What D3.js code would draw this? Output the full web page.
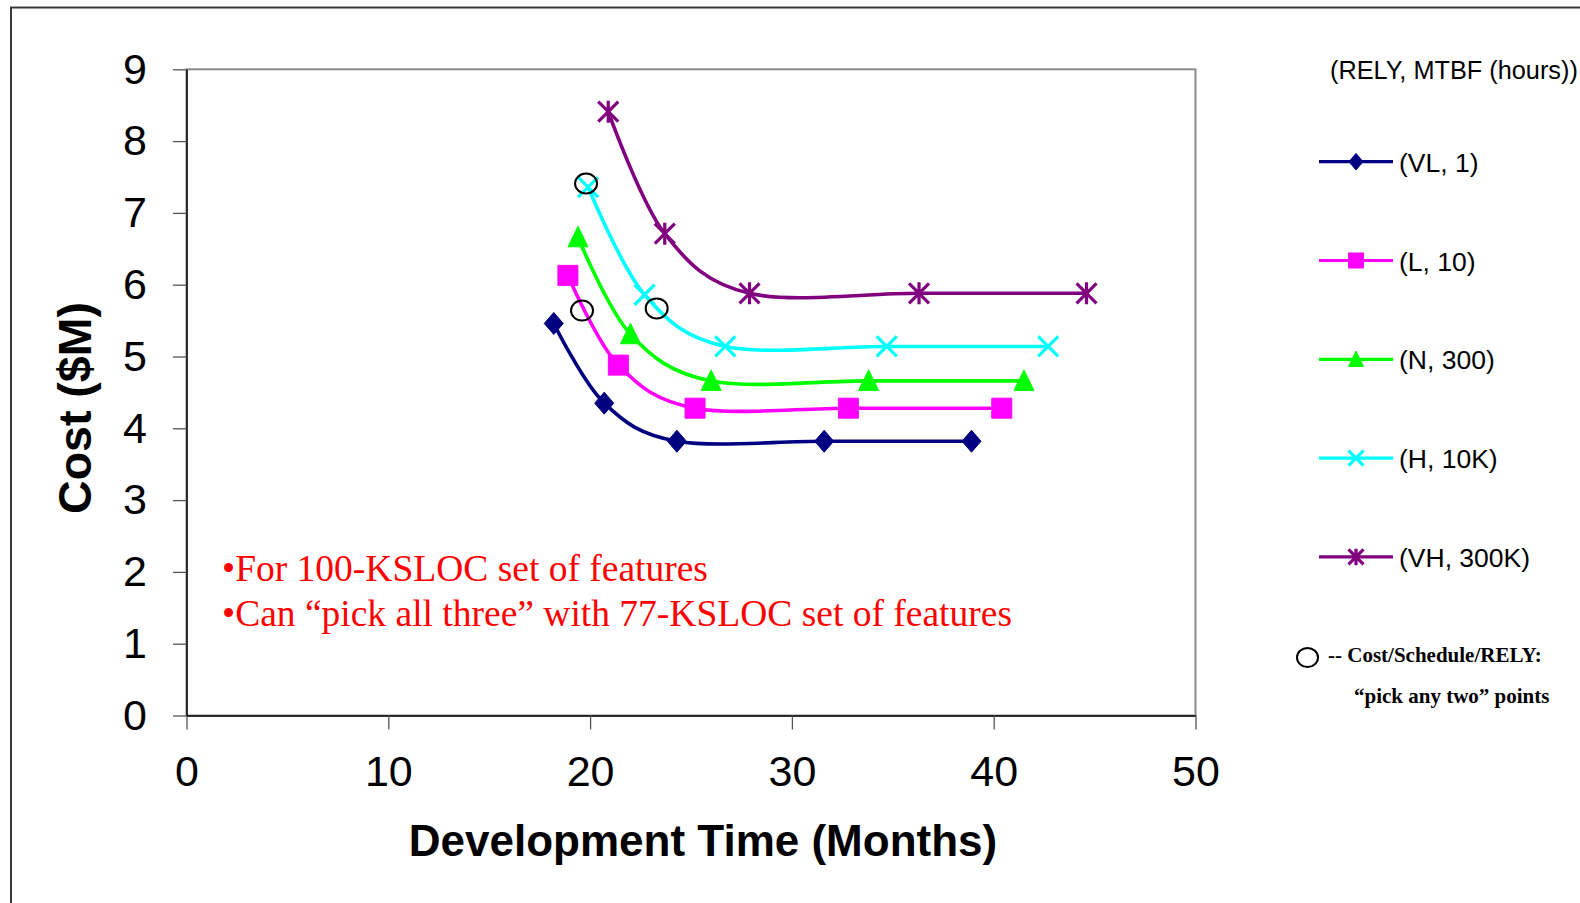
<!DOCTYPE html>
<html>
<head>
<meta charset="utf-8">
<script src="https://cdn.jsdelivr.net/npm/d3@7"></script>
<style>
  html, body { margin: 0; padding: 0; background: #fff; }
  svg { display: block; }
</style>
</head>
<body>
<div id="chart"></div>
<script>
// Cost vs schedule per RELY level (COCOMO style chart)

const seriesNames = ["(VL, 1)", "(L, 10)", "(N, 300)", "(H, 10K)", "(VH, 300K)"];
const seriesColors = ["#000080", "#FF00FF", "#00FF00", "#00FFFF", "#800080"];
const seriesMarkers = ["diamond", "square", "triangle", "x", "star"];

// months
const monthsVL = [18.2, 20.7, 24.3, 31.6, 38.9];
const monthsL  = [18.9, 21.4, 25.2, 32.8, 40.4];
const monthsN  = [19.4, 22.0, 26.0, 33.8, 41.5];
const monthsH  = [19.9, 22.7, 26.7, 34.7, 42.7];
const monthsVH = [20.9, 23.7, 27.9, 36.3, 44.6];

// cost $M
const costVL = [5.46, 4.35, 3.82, 3.82, 3.82];
const costL  = [6.13, 4.88, 4.28, 4.28, 4.28];
const costN  = [6.66, 5.31, 4.66, 4.66, 4.66];
const costH  = [7.36, 5.86, 5.14, 5.14, 5.14];
const costVH = [8.41, 6.71, 5.88, 5.88, 5.88];

// "pick any two" circles
const pickMonths = [19.8, 19.6, 23.3];
const pickCost   = [7.41, 5.64, 5.67];

const xTicks = [0, 10, 20, 30, 40, 50];
const yTicks = [0, 1, 2, 3, 4, 5, 6, 7, 8, 9];

const legendTitle = "(RELY, MTBF (hours))";
const noteLines = ["\u2022For 100-KSLOC set of features",
                   "\u2022Can \u201Cpick all three\u201D with 77-KSLOC set of features"];
const circleNote = ["-- Cost/Schedule/RELY:", "\u201Cpick any two\u201D points"];

const allMonths = [monthsVL, monthsL, monthsN, monthsH, monthsVH];
const allCost = [costVL, costL, costN, costH, costVH];

const series = seriesNames.map((name, i) => ({
  name,
  color: seriesColors[i],
  marker: seriesMarkers[i],
  points: allMonths[i].map((m, j) => ({ x: m, y: allCost[i][j] }))
}));

const W = 1580, H = 903;
const SANS = "'Liberation Sans', Arial, sans-serif";
const SERIF = "'Liberation Serif', 'Times New Roman', serif";

const svg = d3.select("#chart").append("svg")
  .attr("width", W).attr("height", H);

// outer chart frame (runs off the right/bottom edges)
svg.append("rect")
  .attr("x", 11).attr("y", 7.5)
  .attr("width", W + 20).attr("height", H + 20)
  .attr("fill", "#fff")
  .attr("stroke", "#3a3a3a")
  .attr("stroke-width", 2);

const x = d3.scaleLinear().domain([0, 50]).range([186.5, 1195.5]);
const y = d3.scaleLinear().domain([0, 9]).range([715.5, 69.3]);

// plot area border
svg.append("rect")
  .attr("x", x(0)).attr("y", y(9))
  .attr("width", x(50) - x(0)).attr("height", y(0) - y(9))
  .attr("fill", "none")
  .attr("stroke", "#8c8c8c")
  .attr("stroke-width", 2);

// axes
const gx = svg.append("g")
  .attr("transform", `translate(0,${y(0)})`)
  .call(d3.axisBottom(x).tickValues(xTicks).tickSize(14).tickPadding(26).tickSizeOuter(0));

const gy = svg.append("g")
  .attr("transform", `translate(${x(0)},0)`)
  .call(d3.axisLeft(y).tickValues(yTicks).tickSize(13.5).tickPadding(26).tickSizeOuter(0));

[gx, gy].forEach(g => {
  g.select(".domain").attr("stroke", "#000").attr("stroke-width", 1.5);
  g.selectAll(".tick line").attr("stroke", "#555").attr("stroke-width", 1.3);
  g.selectAll(".tick text")
    .attr("fill", "#000")
    .style("font-family", SANS)
    .style("font-size", "43px");
});

// axis titles
svg.append("text")
  .attr("x", 703).attr("y", 856)
  .attr("text-anchor", "middle")
  .style("font-family", SANS).style("font-weight", "bold").style("font-size", "44px")
  .text("Development Time (Months)");

svg.append("text")
  .attr("transform", "translate(91,408) rotate(-90)")
  .attr("text-anchor", "middle")
  .style("font-family", SANS).style("font-weight", "bold").style("font-size", "46.5px")
  .text("Cost ($M)");

// marker shapes
function markerPath(type, s) {
  const h = s / 2;
  switch (type) {
    case "diamond": return `M0,${-h * 1.1}L${h * 0.95},0L0,${h * 1.1}L${-h * 0.95},0Z`;
    case "square": return `M${-h},${-h}H${h}V${h}H${-h}Z`;
    case "triangle": return `M0,${-h * 1.1}L${h},${h * 0.95}L${-h},${h * 0.95}Z`;
    case "x": return `M${-h},${-h}L${h},${h}M${h},${-h}L${-h},${h}`;
    case "star": return `M${-h},${-h}L${h},${h}M${h},${-h}L${-h},${h}M0,${-h * 1.1}L0,${h * 1.1}`;
  }
}
const isStroked = t => t === "x" || t === "star";

function drawMarker(g, type, color, s) {
  const p = g.append("path").attr("d", markerPath(type, s));
  if (isStroked(type)) {
    p.attr("fill", "none").attr("stroke", color).attr("stroke-width", 3.2);
  } else {
    p.attr("fill", color).attr("stroke", color).attr("stroke-width", 1)
      .attr("stroke-linejoin", "round");
  }
  return p;
}

const line = d3.line()
  .x(d => x(d.x))
  .y(d => y(d.y))
  .curve(d3.curveCardinal.tension(0));

series.forEach(s => {
  const g = svg.append("g");
  g.append("path")
    .datum(s.points)
    .attr("d", line)
    .attr("fill", "none")
    .attr("stroke", s.color)
    .attr("stroke-width", 3.6);
  s.points.forEach(p => {
    const m = g.append("g").attr("transform", `translate(${x(p.x)},${y(p.y)})`);
    drawMarker(m, s.marker, s.color, 20);
  });
});

// "pick any two" circles
pickMonths.forEach((m, i) => {
  svg.append("ellipse")
    .attr("cx", x(m)).attr("cy", y(pickCost[i]))
    .attr("rx", 11).attr("ry", 10)
    .attr("fill", "none")
    .attr("stroke", "#000")
    .attr("stroke-width", 2);
});

// red notes
noteLines.forEach((t, i) => {
  svg.append("text")
    .attr("x", 222).attr("y", 581 + i * 45)
    .attr("fill", "#FF0000")
    .style("font-family", SERIF).style("font-size", "37.5px")
    .text(t);
});

// legend
svg.append("text")
  .attr("x", 1330).attr("y", 79)
  .style("font-family", SANS).style("font-size", "25.3px")
  .text(legendTitle);

series.forEach((s, i) => {
  const ly = 161.7 + i * 98.8;
  const g = svg.append("g");
  g.append("line")
    .attr("x1", 1319).attr("x2", 1393)
    .attr("y1", ly).attr("y2", ly)
    .attr("stroke", s.color).attr("stroke-width", 3.2);
  const m = g.append("g").attr("transform", `translate(1356,${ly})`);
  drawMarker(m, s.marker, s.color, 15);
  g.append("text")
    .attr("x", 1399).attr("y", ly + 10)
    .style("font-family", SANS).style("font-size", "26.5px")
    .text(s.name);
});

svg.append("ellipse")
  .attr("cx", 1307.5).attr("cy", 657.5)
  .attr("rx", 10.5).attr("ry", 9.5)
  .attr("fill", "none").attr("stroke", "#000").attr("stroke-width", 2);

svg.append("text")
  .attr("x", 1328).attr("y", 662)
  .style("font-family", SERIF).style("font-weight", "bold").style("font-size", "21px")
  .text(circleNote[0]);
svg.append("text")
  .attr("x", 1354).attr("y", 703)
  .style("font-family", SERIF).style("font-weight", "bold").style("font-size", "21px")
  .text(circleNote[1]);
</script>
</body>
</html>
